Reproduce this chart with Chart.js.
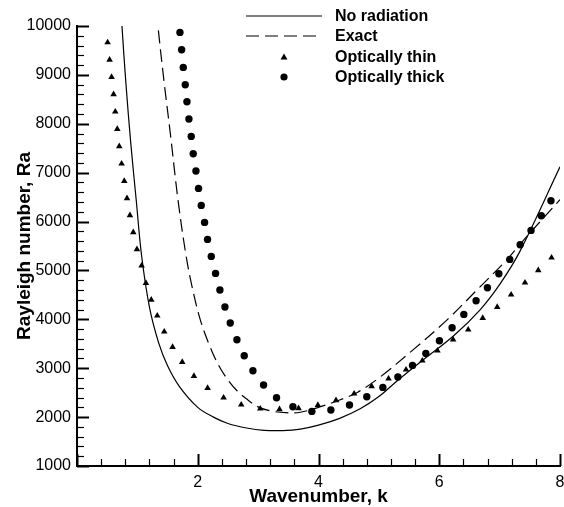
<!DOCTYPE html>
<html>
<head>
<meta charset="utf-8">
<script src="https://cdn.jsdelivr.net/npm/chart.js@4.4.0/dist/chart.umd.min.js"></script>
<style>
  html, body { margin: 0; padding: 0; background: #fff; }
  #wrap { width: 564px; height: 507px; position: relative; }
</style>
</head>
<body>
<div id="wrap"><canvas id="c"></canvas></div>
<script>
// Rayleigh number vs wavenumber — four cases
const xTicks = [2, 4, 6, 8];
const yTicks = [1000, 2000, 3000, 4000, 5000, 6000, 7000, 8000, 9000, 10000];

const noRadK  = [0.73, 0.745, 0.81, 0.89, 0.98, 1.07, 1.2, 1.35, 1.5, 1.7, 2.0, 2.26, 2.5, 2.81, 3.1, 3.4, 3.7, 4.0, 4.35, 4.69, 5.0, 5.3, 5.74, 6.235, 6.68, 7.01, 7.34, 8.0];
const noRadRa = [10400, 10000, 8830, 7610, 6450, 5300, 4250, 3530, 3050, 2620, 2200, 2000, 1870, 1777, 1730, 1725, 1755, 1835, 1975, 2170, 2420, 2740, 3180, 3660, 4200, 4730, 5400, 7120];

const exactK  = [1.32, 1.34, 1.445, 1.545, 1.672, 1.8, 1.9, 2.04, 2.2, 2.35, 2.5, 2.65, 2.8, 3.0, 3.2, 3.45, 3.7, 4.0, 4.35, 4.65, 5.0, 5.57, 6.13, 6.68, 7.12, 7.34, 8.0];
const exactRa = [10300, 10000, 8830, 7810, 6450, 5350, 4700, 4000, 3450, 3050, 2760, 2540, 2380, 2210, 2130, 2090, 2100, 2200, 2350, 2510, 2800, 3380, 3990, 4670, 5220, 5540, 6450];

const thinK  = [0.507, 0.54, 0.573, 0.606, 0.634, 0.667, 0.70, 0.739, 0.783, 0.828, 0.877, 0.932, 0.993, 1.07, 1.142, 1.23, 1.33, 1.445, 1.583, 1.743, 1.937, 2.163, 2.428, 2.72, 3.035, 3.354, 3.67, 3.99, 4.29, 4.59, 4.88, 5.16, 5.45, 5.72, 5.97, 6.23, 6.48, 6.72, 6.96, 7.19, 7.42, 7.64, 7.86];
const thinRa = [9664, 9310, 8957, 8601, 8247, 7893, 7537, 7183, 6830, 6474, 6126, 5778, 5430, 5097, 4743, 4401, 4074, 3747, 3434, 3127, 2841, 2595, 2397, 2254, 2172, 2158, 2178, 2248, 2342, 2479, 2628, 2786, 2970, 3154, 3358, 3583, 3788, 4027, 4252, 4504, 4749, 5001, 5261];

const thickK  = [1.705, 1.733, 1.76, 1.793, 1.821, 1.854, 1.892, 1.925, 1.97, 2.013, 2.058, 2.113, 2.162, 2.224, 2.295, 2.367, 2.45, 2.538, 2.649, 2.77, 2.914, 3.09, 3.305, 3.576, 3.89, 4.205, 4.513, 4.80, 5.066, 5.315, 5.557, 5.778, 6.003, 6.213, 6.407, 6.61, 6.798, 6.987, 7.168, 7.34, 7.52, 7.69, 7.85];
const thickRa = [9869, 9515, 9153, 8799, 8451, 8098, 7742, 7388, 7034, 6678, 6330, 5983, 5635, 5287, 4940, 4600, 4252, 3925, 3583, 3256, 2949, 2657, 2397, 2213, 2117, 2145, 2248, 2417, 2608, 2820, 3058, 3303, 3563, 3829, 4101, 4381, 4647, 4933, 5226, 5526, 5819, 6120, 6426];

const seriesNames = ['No radiation', 'Exact', 'Optically thin', 'Optically thick'];

const FONT = '"Liberation Sans", Arial, Helvetica, sans-serif';
Chart.defaults.font.family = FONT;
Chart.defaults.color = '#000';

function pts(xs, ys) {
    return xs.map((x, i) => ({ x: x, y: ys[i] }));
}

// inward ticks (major + minor) and the legend block in the top right
const decor = {
    id: 'decor',
    afterDraw(chart) {
        const ctx = chart.ctx;
        const xs = chart.scales.x, ys = chart.scales.y;
        const area = chart.chartArea;
        ctx.save();
        ctx.strokeStyle = '#000';
        for (let i = 0; i <= 20; i++) {
            const v = i * 0.4;
            const px = Math.round(xs.getPixelForValue(v)) + 0.5;
            const major = i % 5 === 0;
            ctx.lineWidth = major ? 2 : 1.2;
            ctx.beginPath();
            ctx.moveTo(px, area.bottom);
            ctx.lineTo(px, area.bottom - (major ? 12 : 7));
            ctx.stroke();
        }
        for (let i = 0; i <= 45; i++) {
            const v = 1000 + i * 200;
            const py = Math.round(ys.getPixelForValue(v)) + 0.5;
            const major = i % 5 === 0;
            ctx.lineWidth = major ? 2 : 1.2;
            ctx.beginPath();
            ctx.moveTo(area.left, py);
            ctx.lineTo(area.left + (major ? 12 : 7), py);
            ctx.stroke();
        }

        // legend
        const lx0 = 246, lx1 = 322, tx = 335;
        const rows = [16, 36, 57, 77];
        ctx.lineWidth = 1.2;
        ctx.setLineDash([]);
        ctx.beginPath(); ctx.moveTo(lx0, rows[0]); ctx.lineTo(lx1, rows[0]); ctx.stroke();
        ctx.setLineDash([13, 6]);
        ctx.beginPath(); ctx.moveTo(lx0, rows[1]); ctx.lineTo(lx1, rows[1]); ctx.stroke();
        ctx.setLineDash([]);
        ctx.fillStyle = '#000';
        ctx.beginPath();
        ctx.moveTo(284, rows[2] - 3.5); ctx.lineTo(287.5, rows[2] + 2.5); ctx.lineTo(280.5, rows[2] + 2.5);
        ctx.closePath(); ctx.fill();
        ctx.beginPath(); ctx.arc(284, rows[3], 3.6, 0, Math.PI * 2); ctx.fill();
        ctx.font = 'bold 16px ' + FONT;
        ctx.textBaseline = 'middle';
        ctx.textAlign = 'left';
        seriesNames.forEach((n, i) => ctx.fillText(n, tx, rows[i] + 1));
        ctx.restore();
    }
};

new Chart(document.getElementById('c'), {
    type: 'scatter',
    data: {
        datasets: [
            { label: seriesNames[0], data: pts(noRadK, noRadRa), showLine: true, pointRadius: 0,
              borderColor: '#000', borderWidth: 1.2, tension: 0.35 },
            { label: seriesNames[1], data: pts(exactK, exactRa), showLine: true, pointRadius: 0,
              borderColor: '#000', borderWidth: 1.2, borderDash: [13, 6], tension: 0.35 },
            { label: seriesNames[2], data: pts(thinK, thinRa), pointStyle: 'triangle', pointRadius: 3.8,
              backgroundColor: '#000', borderColor: '#000', borderWidth: 0 },
            { label: seriesNames[3], data: pts(thickK, thickRa), pointStyle: 'circle', pointRadius: 3.7,
              backgroundColor: '#000', borderColor: '#000', borderWidth: 0 }
        ]
    },
    options: {
        responsive: true,
        maintainAspectRatio: false,
        animation: false,
        layout: { padding: { top: 26, right: 4, left: 0, bottom: 0 } },
        plugins: { legend: { display: false }, tooltip: { enabled: false } },
        scales: {
            x: {
                type: 'linear', min: 0, max: 8,
                afterBuildTicks: s => { s.ticks = xTicks.map(v => ({ value: v })); },
                afterFit: s => { s.height = 41; s.paddingLeft = 0; s.paddingRight = 0; },
                ticks: { padding: 7, font: { size: 16 }, maxRotation: 0 },
                grid: { display: true, drawOnChartArea: false, drawTicks: false },
                border: { display: true, color: '#000', width: 2 },
                title: { display: true, text: 'Wavenumber, k', font: { size: 19, weight: 'bold' }, padding: { top: 0, bottom: -1 } }
            },
            y: {
                type: 'linear', min: 1000, max: 10000,
                afterBuildTicks: s => { s.ticks = yTicks.map(v => ({ value: v })); },
                afterFit: s => { s.width = 77; s.paddingTop = 0; s.paddingBottom = 0; },
                ticks: { padding: 6, font: { size: 16 }, callback: v => String(v) },
                grid: { display: true, drawOnChartArea: false, drawTicks: false },
                border: { display: true, color: '#000', width: 2 },
                title: { display: true, text: 'Rayleigh number, Ra', font: { size: 19, weight: 'bold' }, padding: { top: 13, bottom: 0 } }
            }
        }
    },
    plugins: [decor]
});
</script>
</body>
</html>
